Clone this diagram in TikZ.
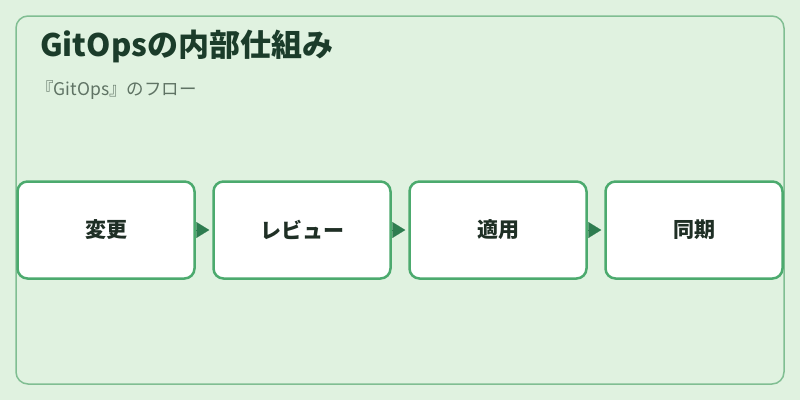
\documentclass[tikz,border=0pt]{standalone}
\usepackage{fontspec}
\setmainfont{Noto Sans CJK JP}
\usepackage{tikz}
\usetikzlibrary{shapes, arrows.meta, positioning}
\definecolor{bgcol}{RGB}{224,242,224}
\definecolor{framecol}{RGB}{128,190,146}
\definecolor{boxcol}{RGB}{76,170,110}
\definecolor{arrowcol}{RGB}{46,125,80}
\definecolor{titlecol}{RGB}{27,60,42}
\definecolor{subcol}{RGB}{95,115,100}
\definecolor{textcol}{RGB}{31,47,37}
\tikzstyle{frame} = [draw=framecol, line width=1.5pt, rounded corners=12pt, fill=bgcol]
\tikzstyle{stepbox} = [rectangle, draw=boxcol, line width=2.5pt, fill=white, rounded corners=10pt, minimum width=177pt, minimum height=97pt, text centered, text=textcol, font=\fontsize{21}{25}\selectfont\bfseries]
\tikzstyle{line} = [draw=arrowcol, line width=0.1pt, -{Triangle[length=13pt, width=16pt, fill=arrowcol]}, shorten <=3pt, shorten >=3pt]

\begin{document}
\begin{tikzpicture}[x=1pt, y=-1pt, node distance = 196pt, auto]
    \fill[bgcol] (0,0) rectangle (800,400);
    \useasboundingbox (0,0) rectangle (800,400);
    \draw[frame] (16,16) rectangle (784,384);

    \node[anchor=base west, inner sep=0, text=titlecol, font=\fontsize{31}{36}\selectfont\bfseries] (title) at (40,56) {GitOpsの内部仕組み};
    \node[anchor=base west, inner sep=0, text=subcol, font=\fontsize{17.5}{21}\selectfont] (subtitle) at (36,95) {『GitOps』のフロー};

    \node[stepbox] (change) at (106,230) {変更};
    \node[stepbox, right of=change] (review) {レビュー};
    \node[stepbox, right of=review] (apply) {適用};
    \node[stepbox, right of=apply] (sync) {同期};

    \path[line] (change) -- (review);
    \path[line] (review) -- (apply);
    \path[line] (apply) -- (sync);
\end{tikzpicture}
\end{document}
